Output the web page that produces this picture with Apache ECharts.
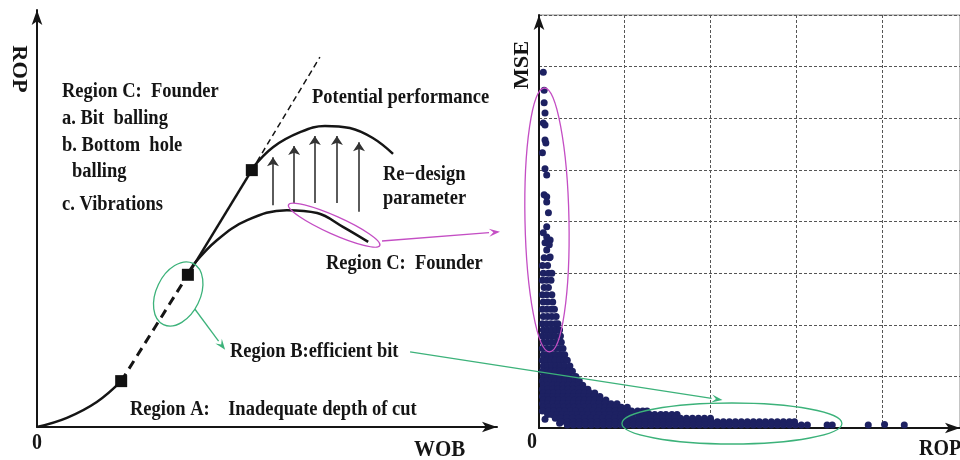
<!DOCTYPE html>
<html>
<head>
<meta charset="utf-8">
<script src="https://cdn.jsdelivr.net/npm/echarts@6/dist/echarts.min.js"></script>
<style>
  html, body { margin: 0; padding: 0; background: #fff; }
  #main { width: 960px; height: 460px; }
</style>
</head>
<body>
<div id="main"></div>
<script>
// ---- left panel: ROP vs WOB concept curve (unitless 0..10 axes) ----
const curveStart = [[0, 0], [0.65, 0.22], [1.30, 0.60], [1.83, 1.10]];
const curveEfficientDash = [[1.83, 1.10], [3.28, 3.65]];
const curveEfficient = [[3.28, 3.65], [4.67, 6.16]];
const curvePotentialDash = [[4.67, 6.16], [6.15, 8.87]];
const curvePotential = [[4.67, 6.19], [5.13, 6.71], [5.72, 7.07], [6.26, 7.22], [6.80, 7.17], [7.30, 6.93], [7.74, 6.55]];
const curveFounder = [[3.28, 3.65], [3.39, 3.88], [3.91, 4.48], [4.57, 4.96], [5.43, 5.20], [6.09, 5.13], [6.65, 4.80], [7.20, 4.44]];
const breakPoints = [[1.83, 1.10], [3.28, 3.65], [4.67, 6.16]];
// re-design arrows: [wob, rop from, rop to]
const redesignArrows = [[5.13, 5.32, 6.47], [5.59, 5.37, 6.74], [6.04, 5.37, 6.98], [6.52, 5.37, 6.98], [7.00, 5.16, 6.83]];

// ---- right panel: MSE vs ROP field data ----
const mseSparse = [
  [0.05, 6.89], [0.06, 6.54], [0.06, 6.30], [0.07, 6.10], [0.05, 5.91], [0.07, 5.87],
  [0.07, 5.58], [0.08, 5.52], [0.04, 5.33], [0.07, 5.02], [0.09, 4.90], [0.06, 4.52],
  [0.09, 4.48], [0.09, 4.38], [0.11, 4.17], [0.09, 3.90], [0.05, 3.78], [0.09, 3.70],
  [0.13, 3.64], [0.07, 3.59], [0.12, 3.55], [0.09, 3.45], [0.13, 3.31]
];
const mseRowLevels = [3.30, 3.15, 3.00, 2.86, 2.72, 2.58, 2.44, 2.30, 2.16, 2.02, 1.90, 1.78, 1.66, 1.54, 1.42, 1.31, 1.20, 1.10, 1.00, 0.91, 0.83, 0.75, 0.68, 0.61, 0.54, 0.47, 0.40, 0.33, 0.26, 0.19, 0.12, 0.06];
const mseRowRop = [
  [0.06, 0.12],
  [0.04, 0.10],
  [0.05, 0.11, 0.15],
  [0.04, 0.09, 0.14],
  [0.06, 0.11],
  [0.04, 0.09, 0.15],
  [0.05, 0.10, 0.16],
  [0.04, 0.09, 0.14, 0.18],
  [0.05, 0.10, 0.15, 0.20],
  [0.04, 0.09, 0.14, 0.19, 0.22],
  [0.05, 0.10, 0.15, 0.20, 0.24],
  [0.04, 0.09, 0.14, 0.19, 0.25],
  [0.05, 0.10, 0.15, 0.20, 0.26],
  [0.04, 0.09, 0.14, 0.19, 0.24, 0.28],
  [0.05, 0.10, 0.15, 0.20, 0.25, 0.30],
  [0.04, 0.09, 0.14, 0.19, 0.24, 0.29, 0.33],
  [0.05, 0.10, 0.15, 0.20, 0.25, 0.30, 0.36],
  [0.04, 0.09, 0.14, 0.19, 0.24, 0.29, 0.34, 0.39],
  [0.05, 0.10, 0.15, 0.20, 0.25, 0.30, 0.36, 0.43],
  [0.04, 0.09, 0.14, 0.19, 0.24, 0.30, 0.36, 0.42, 0.47],
  [0.05, 0.10, 0.16, 0.22, 0.28, 0.34, 0.40, 0.46, 0.51],
  [0.04, 0.10, 0.16, 0.22, 0.28, 0.34, 0.40, 0.46, 0.52, 0.57],
  [0.05, 0.11, 0.17, 0.23, 0.29, 0.35, 0.41, 0.47, 0.53, 0.59, 0.65],
  [0.04, 0.10, 0.16, 0.22, 0.28, 0.34, 0.40, 0.46, 0.52, 0.58, 0.64, 0.71],
  [0.05, 0.11, 0.17, 0.23, 0.29, 0.35, 0.41, 0.47, 0.53, 0.59, 0.65, 0.71, 0.78],
  [0.04, 0.10, 0.16, 0.22, 0.28, 0.34, 0.40, 0.46, 0.52, 0.58, 0.64, 0.70, 0.77, 0.84, 0.91],
  [0.05, 0.11, 0.17, 0.23, 0.29, 0.35, 0.41, 0.47, 0.53, 0.59, 0.65, 0.71, 0.77, 0.83, 0.89, 0.96, 1.03],
  [0.04, 0.11, 0.17, 0.24, 0.30, 0.37, 0.43, 0.50, 0.56, 0.63, 0.69, 0.76, 0.82, 0.89, 0.95, 1.02, 1.08, 1.15, 1.21, 1.26],
  [0.10, 0.15, 0.21, 0.27, 0.33, 0.39, 0.45, 0.51, 0.57, 0.64, 0.70, 0.77, 0.83, 0.90, 0.96, 1.03, 1.09, 1.16, 1.22, 1.29, 1.35, 1.42, 1.48, 1.55, 1.61],
  [0.19, 0.25, 0.32, 0.39, 0.46, 0.53, 0.60, 0.67, 0.74, 0.81, 0.88, 0.95, 1.02, 1.09, 1.16, 1.23, 1.30, 1.37, 1.44, 1.51, 1.58, 1.65, 1.72, 1.79, 1.86, 1.93, 2.00],
  [0.26, 0.33, 0.40, 0.47, 0.54, 0.61, 0.68, 0.75, 0.82, 0.89, 0.96, 1.03, 1.10, 1.17, 1.24, 1.31, 1.38, 1.45, 1.52, 1.59, 1.66, 1.73, 1.80, 1.87, 1.94, 2.01, 2.08, 2.15, 2.22, 2.29, 2.36, 2.43, 2.50, 2.57, 2.64, 2.71, 2.78, 2.85, 2.92, 2.98],
  [0.33, 0.40, 0.47, 0.54, 0.61, 0.68, 0.75, 0.82, 0.89, 0.96, 1.03, 1.10, 1.17, 1.24, 1.31, 1.38, 1.45, 1.52, 1.59, 1.66, 1.73, 1.80, 1.87, 1.94, 2.01, 2.08, 2.15, 2.22, 2.29, 2.36, 2.43, 2.50, 2.57, 2.64, 2.71, 2.78, 2.85, 2.92, 2.99, 3.06, 3.13]
];
const mseTail = [[0.07, 0.17], [0.24, 0.09], [3.36, 0.06], [3.42, 0.06], [3.84, 0.06], [4.03, 0.07], [4.26, 0.06]];

const msePoints = mseSparse.concat(mseTail);
mseRowLevels.forEach(function (mse, i) {
  mseRowRop[i].forEach(function (rop) { msePoints.push([rop, mse]); });
});

const FONT = '"Liberation Serif", "Times New Roman", serif';
const INK = '#151515';
const MAGENTA = '#c44ec4';
const GREEN = '#3cb27a';

const chart = echarts.init(document.getElementById('main'));

function axisArrow() {
  return { show: true, symbol: ['none', 'arrow'], symbolSize: [8, 15], lineStyle: { color: INK, width: 2 } };
}
function curve(data, width, type) {
  return {
    type: 'line', xAxisIndex: 0, yAxisIndex: 0, data: data, smooth: 0.4, symbol: 'none',
    lineStyle: { color: INK, width: width, type: type || 'solid' }, z: 3, silent: true
  };
}

chart.setOption({
  animation: false,
  grid: [
    { left: 37, top: 10, width: 460, height: 417 },
    { left: 539, top: 15, width: 421, height: 413, show: true, borderColor: '#8a8a8a', borderWidth: 1 }
  ],
  xAxis: [
    { gridIndex: 0, type: 'value', min: 0, max: 10, axisLine: axisArrow(),
      axisTick: { show: false }, axisLabel: { show: false }, splitLine: { show: false } },
    { gridIndex: 1, type: 'value', min: 0, max: 4.91, interval: 1, axisLine: axisArrow(),
      axisTick: { show: false }, axisLabel: { show: false },
      splitLine: { show: true, lineStyle: { color: '#555', width: 1, type: [3, 2] } } }
  ],
  yAxis: [
    { gridIndex: 0, type: 'value', min: 0, max: 10, axisLine: axisArrow(),
      axisTick: { show: false }, axisLabel: { show: false }, splitLine: { show: false } },
    { gridIndex: 1, type: 'value', min: 0, max: 8, interval: 1, axisLine: axisArrow(),
      axisTick: { show: false }, axisLabel: { show: false },
      splitLine: { show: true, lineStyle: { color: '#555', width: 1, type: [3, 2] } } }
  ],
  series: [
    curve(curveStart, 2.5),
    curve(curveEfficientDash, 3, [9, 6]),
    curve(curveEfficient, 2.5),
    curve(curvePotentialDash, 1.5, [6, 4]),
    curve(curvePotential, 2.5),
    curve(curveFounder, 2.5),
    {
      type: 'scatter', xAxisIndex: 0, yAxisIndex: 0, data: breakPoints,
      symbol: 'rect', symbolSize: 12, itemStyle: { color: '#111', opacity: 1 }, z: 5, silent: true
    },
    {
      type: 'lines', coordinateSystem: 'cartesian2d', xAxisIndex: 0, yAxisIndex: 0,
      data: redesignArrows.map(function (a) { return { coords: [[a[0], a[1]], [a[0], a[2]]] }; }),
      symbol: ['none', 'arrow'], symbolSize: 9,
      lineStyle: { color: '#333', width: 1.6, opacity: 1 }, silent: true
    },
    {
      type: 'scatter', xAxisIndex: 1, yAxisIndex: 1, data: msePoints,
      symbol: 'circle', symbolSize: 7, itemStyle: { color: '#1d2162', opacity: 1 }, silent: true
    }
  ]
});

// annotations placed through the axes' own scales
function p0(pt) { return chart.convertToPixel({ gridIndex: 0 }, pt); }
function p1(pt) { return chart.convertToPixel({ gridIndex: 1 }, pt); }

function ellipse(c, rx, ry, rot, color) {
  return { type: 'ellipse', x: c[0], y: c[1], rotation: rot, z: 50,
    shape: { cx: 0, cy: 0, rx: rx, ry: ry },
    style: { fill: 'none', stroke: color, lineWidth: 1.3 } };
}
function arrow(a, b, color) {
  const ang = Math.atan2(b[1] - a[1], b[0] - a[0]);
  const L = 11, W = 4;
  const bx = b[0] - L * Math.cos(ang), by = b[1] - L * Math.sin(ang);
  return [
    { type: 'line', z: 50, shape: { x1: a[0], y1: a[1], x2: bx, y2: by }, style: { stroke: color, lineWidth: 1.3 } },
    { type: 'polygon', z: 50, shape: { points: [
      [b[0], b[1]],
      [bx + W * Math.sin(ang), by - W * Math.cos(ang)],
      [b[0] - 0.6 * L * Math.cos(ang), b[1] - 0.6 * L * Math.sin(ang)],
      [bx - W * Math.sin(ang), by + W * Math.cos(ang)]
    ] }, style: { fill: color } }
  ];
}
function label(text, x, y, size, opts) {
  const o = opts || {};
  return { type: 'text', x: x, y: y, z: 60, rotation: o.rotation || 0,
    scaleX: o.rotation ? 1.12 : 1, scaleY: o.rotation ? 1 : 1.12,
    style: { text: text, font: 'bold ' + size + 'px ' + FONT, fill: INK,
      align: o.align || 'left', verticalAlign: 'middle' } };
}

const graphics = [
  ellipse(p0([6.46, 4.84]), 50, 9, -0.42, MAGENTA),
  ellipse(p0([3.07, 3.19]), 22, 34, -0.45, GREEN),
  ellipse(p1([0.093, 4.03]), 22, 132, 0.02, MAGENTA),
  ellipse(p1([2.25, 0.087]), 110, 20.5, 0, GREEN)
]
  .concat(arrow(p0([7.50, 4.46]), p1([-0.455, 3.80]), MAGENTA))
  .concat(arrow(p0([3.43, 2.83]), p0([4.09, 1.85]), GREEN))
  .concat(arrow(p0([8.11, 1.80]), p1([2.14, 0.54]), GREEN))
  .concat([
    label('Region C:  Founder', 62, 92, 18.5),
    label('a. Bit  balling', 62, 119, 18.5),
    label('b. Bottom  hole', 62, 146, 18.5),
    label('balling', 72, 172, 18.5),
    label('c. Vibrations', 62, 205, 18.5),
    label('Potential performance', 312, 98, 18.5),
    label('Re\u2212design', 383, 175, 18.5),
    label('parameter', 383, 199, 18.5),
    label('Region C:  Founder', 326, 264, 18.5),
    label('Region B:efficient bit', 230, 352, 18.5),
    label('Region A:    Inadequate depth of cut', 130, 410, 18.5),
    label('0', 32, 443, 20),
    label('WOB', 414, 450, 21),
    label('ROP', 18, 69, 20, { rotation: -Math.PI / 2, align: 'center' }),
    label('MSE', 523, 65, 20, { rotation: Math.PI / 2, align: 'center' }),
    label('0', 527, 442, 20),
    label('ROP', 919, 449, 20)
  ]);

chart.setOption({ graphic: graphics });
</script>
</body>
</html>
